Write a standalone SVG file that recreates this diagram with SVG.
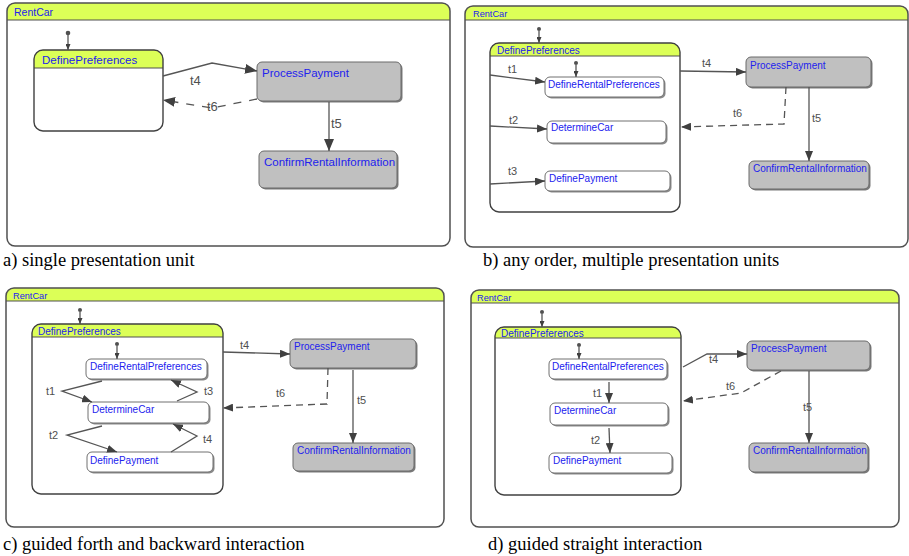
<svg xmlns="http://www.w3.org/2000/svg" width="909" height="556" viewBox="0 0 909 556">
  <style>
    .bg { fill: #ffffff; }
    .frame { fill: none; stroke: #505050; stroke-width: 1.5; }
    .hdr { fill: #dcff57; stroke: none; }
    .sep { stroke: #505050; stroke-width: 1.2; }
    .comp { fill: #ffffff; }
    .compline { fill: none; stroke: #404040; stroke-width: 1.4; }
    .leaf { fill: #ffffff; stroke: #707070; stroke-width: 1; }
    .leafsh { fill: #8a8a8a; }
    .gray { fill: #c0c0c0; stroke: #6a6a6a; stroke-width: 1; }
    .graysh { fill: #7a7a7a; }
    .name { font-family: "Liberation Sans", Arial, sans-serif; fill: #2222ee; font-size: 10px; }
    .name-l { font-size: 11.5px; }
    .title { font-size: 9.2px; }
    .edge { fill: none; stroke: #555555; stroke-width: 1.3; }
    .dash { stroke-dasharray: 7 5; }
    .dash-l { stroke-dasharray: 8 8; }
    .lbl { font-family: "Liberation Sans", Arial, sans-serif; fill: #505050; font-size: 11px; }
    .lbl-l { font-size: 13px; }
    .init { fill: #505050; }
    .cap { font-family: "Liberation Serif", "Times New Roman", serif; font-size: 18.5px; fill: #000000; }
  </style>
  <defs>
    <marker id="ah" viewBox="0 0 10 8" refX="10" refY="4" markerWidth="10" markerHeight="8" orient="auto" markerUnits="userSpaceOnUse">
      <path d="M0,0 L10,4 L0,8 Z" fill="#404040"/>
    </marker>
    <marker id="ahL" viewBox="0 0 12 10" refX="12" refY="5" markerWidth="12" markerHeight="10" orient="auto" markerUnits="userSpaceOnUse">
      <path d="M0,0 L12,5 L0,10 Z" fill="#404040"/>
    </marker>
    <marker id="ahS" viewBox="0 0 6 5" refX="6" refY="2.5" markerWidth="6" markerHeight="5" orient="auto" markerUnits="userSpaceOnUse">
      <path d="M0,0 L6,2.5 L0,5 Z" fill="#404040"/>
    </marker>
  </defs>

  <!-- ===================== a) single presentation unit ===================== -->
  <g id="a-RentCar">
    <rect class="bg" x="7" y="3" width="443" height="243" rx="8"/>
    <path class="hdr" d="M7,20 V11 A8,8 0 0 1 15,3 H442 A8,8 0 0 1 450,11 V20 Z"/>
    <line class="sep" x1="7" y1="20" x2="450" y2="20"/>
    <rect class="frame" x="7" y="3" width="443" height="243" rx="8"/>
    <text class="name" x="14" y="16" style="font-size:10.5px">RentCar</text>
  </g>
  <g id="a-DefinePreferences">
    <rect class="comp" x="34" y="50" width="129" height="81" rx="9"/>
    <path class="hdr" d="M34,68 V59 A9,9 0 0 1 43,50 H154 A9,9 0 0 1 163,59 V68 Z"/>
    <line class="sep" x1="34" y1="68" x2="163" y2="68"/>
    <rect class="compline" x="34" y="50" width="129" height="81" rx="9"/>
    <text class="name name-l" x="42" y="64">DefinePreferences</text>
  </g>
  <g id="a-ProcessPayment">
    <rect class="graysh" x="258.5" y="63.5" width="144" height="39" rx="5"/>
    <rect class="gray" x="257" y="62" width="144" height="39" rx="5"/>
    <text class="name name-l" x="262" y="77">ProcessPayment</text>
  </g>
  <g id="a-ConfirmRentalInformation">
    <rect class="graysh" x="260.5" y="152.5" width="138" height="37" rx="5"/>
    <rect class="gray" x="259" y="151" width="138" height="37" rx="5"/>
    <text class="name name-l" x="264" y="166">ConfirmRentalInformation</text>
  </g>
  <g id="a-edges">
    <circle class="init" cx="68" cy="33" r="2.3"/>
    <line class="edge" x1="68" y1="35" x2="68" y2="50" marker-end="url(#ahS)"/>
    <polyline class="edge" points="163,76 212,63 257,71" marker-end="url(#ahL)"/>
    <text class="lbl lbl-l" x="190" y="85">t4</text>
    <polyline class="edge dash-l" points="257,99 212,108 163,100" marker-end="url(#ahL)"/>
    <text class="lbl lbl-l" x="207" y="111">t6</text>
    <line class="edge" x1="329" y1="102" x2="329" y2="151" marker-end="url(#ahL)"/>
    <text class="lbl lbl-l" x="331" y="128">t5</text>
  </g>
  <text class="cap" x="3" y="266">a) single presentation unit</text>

  <!-- ===================== b) any order, multiple presentation units ===================== -->
  <g id="b-RentCar">
    <rect class="bg" x="465" y="6" width="443" height="241" rx="8"/>
    <path class="hdr" d="M465,20 V14 A8,8 0 0 1 473,6 H900 A8,8 0 0 1 908,14 V20 Z"/>
    <line class="sep" x1="465" y1="20" x2="908" y2="20"/>
    <rect class="frame" x="465" y="6" width="443" height="241" rx="8"/>
    <text class="name title" x="473" y="17">RentCar</text>
  </g>
  <g id="b-DefinePreferences">
    <rect class="comp" x="490" y="43" width="190" height="169" rx="9"/>
    <path class="hdr" d="M490,56 V52 A9,9 0 0 1 499,43 H671 A9,9 0 0 1 680,52 V56 Z"/>
    <line class="sep" x1="490" y1="56" x2="680" y2="56"/>
    <rect class="compline" x="490" y="43" width="190" height="169" rx="9"/>
    <text class="name" x="497" y="53.5">DefinePreferences</text>
  </g>
  <g id="b-DefineRentalPreferences">
    <rect class="leafsh" x="546.5" y="78.5" width="119" height="20" rx="5"/>
    <rect class="leaf" x="545" y="77" width="119" height="20" rx="5"/>
    <text class="name" x="548" y="88">DefineRentalPreferences</text>
  </g>
  <g id="b-DetermineCar">
    <rect class="leafsh" x="548.5" y="122.5" width="119" height="22" rx="5"/>
    <rect class="leaf" x="547" y="121" width="119" height="22" rx="5"/>
    <text class="name" x="551" y="131">DetermineCar</text>
  </g>
  <g id="b-DefinePayment">
    <rect class="leafsh" x="546.5" y="172.5" width="125" height="20" rx="5"/>
    <rect class="leaf" x="545" y="171" width="125" height="20" rx="5"/>
    <text class="name" x="549" y="182">DefinePayment</text>
  </g>
  <g id="b-ProcessPayment">
    <rect class="graysh" x="747.5" y="58.5" width="125" height="30" rx="5"/>
    <rect class="gray" x="746" y="57" width="125" height="30" rx="5"/>
    <text class="name" x="750" y="68.5">ProcessPayment</text>
  </g>
  <g id="b-ConfirmRentalInformation">
    <rect class="graysh" x="750.5" y="162.5" width="120" height="28" rx="5"/>
    <rect class="gray" x="749" y="161" width="120" height="28" rx="5"/>
    <text class="name" x="753" y="172">ConfirmRentalInformation</text>
  </g>
  <g id="b-edges">
    <circle class="init" cx="539" cy="29" r="2"/>
    <line class="edge" x1="539" y1="31" x2="539" y2="43" marker-end="url(#ahS)"/>
    <circle class="init" cx="576" cy="63" r="2"/>
    <line class="edge" x1="576" y1="65" x2="576" y2="77" marker-end="url(#ahS)"/>
    <line class="edge" x1="490" y1="75" x2="545" y2="82" marker-end="url(#ah)"/>
    <text class="lbl" x="508" y="73">t1</text>
    <line class="edge" x1="490" y1="126" x2="547" y2="129" marker-end="url(#ah)"/>
    <text class="lbl" x="509" y="124">t2</text>
    <line class="edge" x1="490" y1="184" x2="545" y2="181" marker-end="url(#ah)"/>
    <text class="lbl" x="508" y="175">t3</text>
    <line class="edge" x1="680" y1="71" x2="746" y2="72" marker-end="url(#ah)"/>
    <text class="lbl" x="702" y="67">t4</text>
    <line class="edge" x1="809" y1="87" x2="809" y2="161" marker-end="url(#ah)"/>
    <text class="lbl" x="812" y="122">t5</text>
    <polyline class="edge dash" points="786,87 784,124 681,127" marker-end="url(#ah)"/>
    <text class="lbl" x="733" y="117">t6</text>
  </g>
  <text class="cap" x="483" y="266">b) any order, multiple presentation units</text>

  <!-- ===================== c) guided forth and backward interaction ===================== -->
  <g id="c-RentCar">
    <rect class="bg" x="6" y="288" width="438" height="239" rx="8"/>
    <path class="hdr" d="M6,301 V296 A8,8 0 0 1 14,288 H436 A8,8 0 0 1 444,296 V301 Z"/>
    <line class="sep" x1="6" y1="301" x2="444" y2="301"/>
    <rect class="frame" x="6" y="288" width="438" height="239" rx="8"/>
    <text class="name title" x="13" y="298.5">RentCar</text>
  </g>
  <g id="c-DefinePreferences">
    <rect class="comp" x="32" y="324" width="191" height="170" rx="9"/>
    <path class="hdr" d="M32,337 V333 A9,9 0 0 1 41,324 H214 A9,9 0 0 1 223,333 V337 Z"/>
    <line class="sep" x1="32" y1="337" x2="223" y2="337"/>
    <rect class="compline" x="32" y="324" width="191" height="170" rx="9"/>
    <text class="name" x="38" y="334.5">DefinePreferences</text>
  </g>
  <g id="c-DefineRentalPreferences">
    <rect class="leafsh" x="87.5" y="360.5" width="121" height="20" rx="5"/>
    <rect class="leaf" x="86" y="359" width="121" height="20" rx="5"/>
    <text class="name" x="90" y="369.5">DefineRentalPreferences</text>
  </g>
  <g id="c-DetermineCar">
    <rect class="leafsh" x="89.5" y="403.5" width="121" height="21" rx="5"/>
    <rect class="leaf" x="88" y="402" width="121" height="21" rx="5"/>
    <text class="name" x="92" y="413">DetermineCar</text>
  </g>
  <g id="c-DefinePayment">
    <rect class="leafsh" x="88.5" y="453.5" width="126" height="20" rx="5"/>
    <rect class="leaf" x="87" y="452" width="126" height="20" rx="5"/>
    <text class="name" x="90" y="464">DefinePayment</text>
  </g>
  <g id="c-ProcessPayment">
    <rect class="graysh" x="291.5" y="340.5" width="126" height="29" rx="5"/>
    <rect class="gray" x="290" y="339" width="126" height="29" rx="5"/>
    <text class="name" x="294" y="350">ProcessPayment</text>
  </g>
  <g id="c-ConfirmRentalInformation">
    <rect class="graysh" x="294.5" y="444.5" width="121" height="28" rx="5"/>
    <rect class="gray" x="293" y="443" width="121" height="28" rx="5"/>
    <text class="name" x="297" y="453.5">ConfirmRentalInformation</text>
  </g>
  <g id="c-edges">
    <circle class="init" cx="80" cy="310" r="2"/>
    <line class="edge" x1="80" y1="312" x2="80" y2="324" marker-end="url(#ahS)"/>
    <circle class="init" cx="117" cy="344" r="2"/>
    <line class="edge" x1="117" y1="346" x2="117" y2="359" marker-end="url(#ahS)"/>
    <polyline class="edge" points="102,381 62,391 92,402" marker-end="url(#ah)"/>
    <text class="lbl" x="46" y="395">t1</text>
    <polyline class="edge" points="177,401 197,392 171,380" marker-end="url(#ah)"/>
    <text class="lbl" x="204" y="395">t3</text>
    <polyline class="edge" points="102,426 67,435 117,452" marker-end="url(#ah)"/>
    <text class="lbl" x="49" y="439">t2</text>
    <polyline class="edge" points="171,452 197,436 173,424" marker-end="url(#ah)"/>
    <text class="lbl" x="203" y="443">t4</text>
    <line class="edge" x1="223" y1="352" x2="290" y2="354" marker-end="url(#ah)"/>
    <text class="lbl" x="240" y="349">t4</text>
    <line class="edge" x1="353" y1="370" x2="353" y2="443" marker-end="url(#ah)"/>
    <text class="lbl" x="357" y="404">t5</text>
    <polyline class="edge dash" points="328,368 327,404 223,408" marker-end="url(#ah)"/>
    <text class="lbl" x="276" y="397">t6</text>
  </g>
  <text class="cap" x="3" y="550">c) guided forth and backward interaction</text>

  <!-- ===================== d) guided straight interaction ===================== -->
  <g id="d-RentCar">
    <rect class="bg" x="471" y="290" width="428" height="237" rx="8"/>
    <path class="hdr" d="M471,303 V298 A8,8 0 0 1 479,290 H891 A8,8 0 0 1 899,298 V303 Z"/>
    <line class="sep" x1="471" y1="303" x2="899" y2="303"/>
    <rect class="frame" x="471" y="290" width="428" height="237" rx="8"/>
    <text class="name title" x="477" y="300.5">RentCar</text>
  </g>
  <g id="d-DefinePreferences">
    <rect class="comp" x="495" y="327" width="186" height="168" rx="9"/>
    <path class="hdr" d="M495,338 V336 A9,9 0 0 1 504,327 H672 A9,9 0 0 1 681,336 V338 Z"/>
    <line class="sep" x1="495" y1="338" x2="681" y2="338"/>
    <rect class="compline" x="495" y="327" width="186" height="168" rx="9"/>
    <text class="name" x="501" y="337">DefinePreferences</text>
  </g>
  <g id="d-DefineRentalPreferences">
    <rect class="leafsh" x="550.5" y="360.5" width="118" height="20" rx="5"/>
    <rect class="leaf" x="549" y="359" width="118" height="20" rx="5"/>
    <text class="name" x="552" y="370">DefineRentalPreferences</text>
  </g>
  <g id="d-DetermineCar">
    <rect class="leafsh" x="551.5" y="404.5" width="118" height="22" rx="5"/>
    <rect class="leaf" x="550" y="403" width="118" height="22" rx="5"/>
    <text class="name" x="554" y="414">DetermineCar</text>
  </g>
  <g id="d-DefinePayment">
    <rect class="leafsh" x="550.5" y="454.5" width="123" height="20" rx="5"/>
    <rect class="leaf" x="549" y="453" width="123" height="20" rx="5"/>
    <text class="name" x="553" y="464">DefinePayment</text>
  </g>
  <g id="d-ProcessPayment">
    <rect class="graysh" x="748.5" y="342.5" width="123" height="29" rx="5"/>
    <rect class="gray" x="747" y="341" width="123" height="29" rx="5"/>
    <text class="name" x="751" y="352">ProcessPayment</text>
  </g>
  <g id="d-ConfirmRentalInformation">
    <rect class="graysh" x="750.5" y="444.5" width="119" height="29" rx="5"/>
    <rect class="gray" x="749" y="443" width="119" height="29" rx="5"/>
    <text class="name" x="753" y="454">ConfirmRentalInformation</text>
  </g>
  <g id="d-edges">
    <circle class="init" cx="542" cy="312" r="2"/>
    <line class="edge" x1="542" y1="314" x2="542" y2="327" marker-end="url(#ahS)"/>
    <circle class="init" cx="579" cy="345" r="2"/>
    <line class="edge" x1="579" y1="347" x2="579" y2="359" marker-end="url(#ahS)"/>
    <line class="edge" x1="609" y1="382" x2="609" y2="403" marker-end="url(#ah)"/>
    <text class="lbl" x="593" y="397">t1</text>
    <line class="edge" x1="609" y1="428" x2="610" y2="453" marker-end="url(#ah)"/>
    <text class="lbl" x="591" y="444">t2</text>
    <polyline class="edge" points="683,367 707,354 747,354" marker-end="url(#ah)"/>
    <text class="lbl" x="709" y="363">t4</text>
    <line class="edge" x1="809" y1="371" x2="809" y2="443" marker-end="url(#ah)"/>
    <text class="lbl" x="803" y="411">t5</text>
    <polyline class="edge dash" points="781,371 741,393 683,401" marker-end="url(#ah)"/>
    <text class="lbl" x="726" y="390">t6</text>
  </g>
  <text class="cap" x="488" y="550">d) guided straight interaction</text>
</svg>
